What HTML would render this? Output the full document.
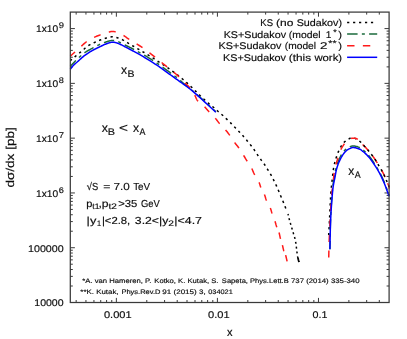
<!DOCTYPE html>
<html><head><meta charset="utf-8"><title>plot</title>
<style>html,body{margin:0;padding:0;background:#fff;}svg{display:block;will-change:transform;}text{font-family:"Liberation Sans", sans-serif;fill:#0d0d0d;stroke:#0d0d0d;stroke-width:0.16px;text-rendering:geometricPrecision;}</style></head><body>
<svg width="407" height="339" viewBox="0 0 407 339">
<rect x="0" y="0" width="407" height="339" fill="#ffffff"/>
<path d="M76.16 302.50v-2.50M76.16 12.10v2.50M85.95 302.50v-2.50M85.95 12.10v2.50M93.95 302.50v-2.50M93.95 12.10v2.50M100.72 302.50v-2.50M100.72 12.10v2.50M106.58 302.50v-2.50M106.58 12.10v2.50M111.75 302.50v-2.50M111.75 12.10v2.50M116.37 302.50v-4.60M116.37 12.10v4.60M146.79 302.50v-2.50M146.79 12.10v2.50M164.58 302.50v-2.50M164.58 12.10v2.50M177.21 302.50v-2.50M177.21 12.10v2.50M187.00 302.50v-2.50M187.00 12.10v2.50M195.00 302.50v-2.50M195.00 12.10v2.50M201.77 302.50v-2.50M201.77 12.10v2.50M207.63 302.50v-2.50M207.63 12.10v2.50M212.80 302.50v-2.50M212.80 12.10v2.50M217.42 302.50v-4.60M217.42 12.10v4.60M247.84 302.50v-2.50M247.84 12.10v2.50M265.63 302.50v-2.50M265.63 12.10v2.50M278.26 302.50v-2.50M278.26 12.10v2.50M288.05 302.50v-2.50M288.05 12.10v2.50M296.05 302.50v-2.50M296.05 12.10v2.50M302.82 302.50v-2.50M302.82 12.10v2.50M308.68 302.50v-2.50M308.68 12.10v2.50M313.85 302.50v-2.50M313.85 12.10v2.50M318.47 302.50v-4.60M318.47 12.10v4.60M348.89 302.50v-2.50M348.89 12.10v2.50M366.68 302.50v-2.50M366.68 12.10v2.50M379.31 302.50v-2.50M379.31 12.10v2.50M70.30 286.01h2.50M389.10 286.01h-2.50M70.30 276.36h2.50M389.10 276.36h-2.50M70.30 269.52h2.50M389.10 269.52h-2.50M70.30 264.21h2.50M389.10 264.21h-2.50M70.30 259.87h2.50M389.10 259.87h-2.50M70.30 256.20h2.50M389.10 256.20h-2.50M70.30 253.03h2.50M389.10 253.03h-2.50M70.30 250.22h2.50M389.10 250.22h-2.50M70.30 247.72h4.60M389.10 247.72h-4.60M70.30 231.23h2.50M389.10 231.23h-2.50M70.30 221.58h2.50M389.10 221.58h-2.50M70.30 214.74h2.50M389.10 214.74h-2.50M70.30 209.43h2.50M389.10 209.43h-2.50M70.30 205.09h2.50M389.10 205.09h-2.50M70.30 201.42h2.50M389.10 201.42h-2.50M70.30 198.25h2.50M389.10 198.25h-2.50M70.30 195.44h2.50M389.10 195.44h-2.50M70.30 192.94h4.60M389.10 192.94h-4.60M70.30 176.45h2.50M389.10 176.45h-2.50M70.30 166.80h2.50M389.10 166.80h-2.50M70.30 159.95h2.50M389.10 159.95h-2.50M70.30 154.65h2.50M389.10 154.65h-2.50M70.30 150.31h2.50M389.10 150.31h-2.50M70.30 146.64h2.50M389.10 146.64h-2.50M70.30 143.46h2.50M389.10 143.46h-2.50M70.30 140.66h2.50M389.10 140.66h-2.50M70.30 138.15h4.60M389.10 138.15h-4.60M70.30 121.66h2.50M389.10 121.66h-2.50M70.30 112.02h2.50M389.10 112.02h-2.50M70.30 105.17h2.50M389.10 105.17h-2.50M70.30 99.86h2.50M389.10 99.86h-2.50M70.30 95.53h2.50M389.10 95.53h-2.50M70.30 91.86h2.50M389.10 91.86h-2.50M70.30 88.68h2.50M389.10 88.68h-2.50M70.30 85.88h2.50M389.10 85.88h-2.50M70.30 83.37h4.60M389.10 83.37h-4.60M70.30 66.88h2.50M389.10 66.88h-2.50M70.30 57.24h2.50M389.10 57.24h-2.50M70.30 50.39h2.50M389.10 50.39h-2.50M70.30 45.08h2.50M389.10 45.08h-2.50M70.30 40.74h2.50M389.10 40.74h-2.50M70.30 37.08h2.50M389.10 37.08h-2.50M70.30 33.90h2.50M389.10 33.90h-2.50M70.30 31.10h2.50M389.10 31.10h-2.50M70.30 28.59h4.60M389.10 28.59h-4.60" stroke="#3a3a3a" stroke-width="1" fill="none"/>
<g fill="none" stroke-linejoin="round">
<path d="M264.40 194.50 L264.62 195.04 L264.82 195.56 L264.99 196.06 L265.15 196.56 L265.30 197.05 L265.44 197.53 L265.58 198.02 L265.73 198.51 L265.89 199.01 L266.07 199.52 L266.27 200.05 L266.50 200.60" stroke="#ff1a1a" stroke-width="1.5"/>
<path d="M270.30 208.00 L270.52 208.52 L270.70 209.01 L270.86 209.48 L271.01 209.92 L271.14 210.35 L271.26 210.78 L271.37 211.21 L271.49 211.64 L271.62 212.09 L271.76 212.57 L271.92 213.07 L272.10 213.60" stroke="#ff1a1a" stroke-width="1.5"/>
<path d="M275.00 221.30 L275.19 221.86 L275.36 222.41 L275.52 222.94 L275.67 223.46 L275.81 223.96 L275.94 224.46 L276.08 224.94 L276.21 225.42 L276.35 225.90 L276.49 226.37 L276.64 226.83 L276.80 227.30" stroke="#ff1a1a" stroke-width="1.5"/>
<path d="M279.00 232.50 L279.15 232.99 L279.29 233.50 L279.41 234.02 L279.54 234.55 L279.65 235.09 L279.77 235.64 L279.88 236.19 L280.00 236.74 L280.11 237.29 L280.23 237.83 L280.36 238.37 L280.50 238.90" stroke="#ff1a1a" stroke-width="1.5"/>
<path d="M282.40 245.10 L282.54 245.62 L282.67 246.16 L282.80 246.71 L282.92 247.26 L283.04 247.80 L283.16 248.35 L283.28 248.89 L283.40 249.41 L283.52 249.92 L283.64 250.41 L283.77 250.87 L283.90 251.30" stroke="#ff1a1a" stroke-width="1.5"/>
<path d="M285.60 255.10 L285.73 255.53 L285.86 255.99 L285.99 256.48 L286.11 256.99 L286.24 257.51 L286.36 258.05 L286.49 258.60 L286.61 259.14 L286.73 259.69 L286.85 260.24 L286.98 260.78 L287.10 261.30" stroke="#ff1a1a" stroke-width="1.5"/>
<path d="M362.65 144.40 L362.92 144.72 L363.21 145.08 L363.50 145.40 L363.76 145.68 L363.99 145.90 L364.19 146.09 L364.38 146.26 L364.57 146.42 L364.76 146.57 L364.96 146.75 L365.19 146.96 L365.44 147.22 L365.74 147.53 L366.09 147.92 L366.50 148.40 L366.98 148.97 L367.52 149.62 L368.12 150.34 L368.33 150.60" stroke="#ff1a1a" stroke-width="1.5"/>
<path d="M372.56 155.90 L372.88 156.33 L373.52 157.18 L374.10 158.00 L374.65 158.80 L375.19 159.62 L375.72 160.45 L376.24 161.28 L376.75 162.11 L377.24 162.93 L377.28 163.00" stroke="#ff1a1a" stroke-width="1.5"/>
<path d="M381.42 170.00 L381.54 170.20 L381.82 170.66 L382.10 171.14 L382.39 171.64 L382.68 172.18 L383.00 172.78 L383.33 173.45 L383.70 174.20 L384.09 175.04 L384.51 175.95 L384.94 176.92 L385.02 177.10" stroke="#ff1a1a" stroke-width="1.5"/>
<path d="M387.65 183.30 L387.71 183.44 L388.18 184.55 L388.64 185.64 L389.10 186.70 L389.10 188.60" stroke="#ff1a1a" stroke-width="1.5"/>
<path d="M297.92 258.00 L297.99 258.27 L298.10 258.69 L298.21 259.10 L298.32 259.52 L298.43 259.93 L298.55 260.34 L298.66 260.76 L298.78 261.17 L298.89 261.58 L299.00 262.00" stroke="#000000" stroke-width="1.8"/>
<path d="M70.30 60.60 L70.86 60.13 L71.42 59.65 L71.97 59.18 L72.53 58.71 L73.09 58.23 L73.65 57.76 L74.22 57.28 L74.80 56.80 L75.39 56.32 L75.99 55.83 L76.60 55.34 L77.21 54.84 L77.82 54.35 L78.43 53.86 L79.02 53.38 L79.60 52.90 L80.16 52.43 L80.71 51.96 L81.24 51.49 L81.77 51.03 L82.29 50.57 L82.82 50.11 L83.36 49.66 L83.90 49.20 L84.45 48.74 L84.99 48.28 L85.52 47.81 L86.07 47.35 L86.62 46.89 L87.19 46.45 L87.78 46.02 L88.40 45.60 L89.05 45.20 L89.72 44.81 L90.42 44.44 L91.13 44.08 L91.85 43.72 L92.57 43.37 L93.29 43.03 L94.00 42.70 L94.70 42.37 L95.41 42.05 L96.12 41.74 L96.83 41.43 L97.53 41.13 L98.23 40.85 L98.92 40.57 L99.60 40.30 L100.26 40.04 L100.91 39.80 L101.55 39.57 L102.18 39.34 L102.82 39.13 L103.46 38.91 L104.12 38.71 L104.80 38.50 L105.53 38.29 L106.31 38.07 L107.12 37.85 L107.93 37.64 L108.72 37.45 L109.46 37.27 L110.13 37.12 L110.70 37.00 L111.15 36.92 L111.50 36.86 L111.77 36.83 L111.99 36.82 L112.20 36.82 L112.42 36.84 L112.67 36.87 L113.00 36.90 L113.37 36.93 L113.75 36.96 L114.15 37.00 L114.57 37.05 L115.02 37.12 L115.51 37.21 L116.03 37.34 L116.60 37.50 L117.23 37.70 L117.94 37.94 L118.69 38.21 L119.47 38.51 L120.26 38.82 L121.04 39.14 L121.79 39.47 L122.50 39.80 L123.14 40.12 L123.74 40.45 L124.31 40.78 L124.86 41.12 L125.43 41.48 L126.03 41.86 L126.68 42.27 L127.40 42.70 L128.15 43.14 L128.88 43.57 L129.63 44.01 L130.43 44.48 L131.31 45.00 L132.29 45.58 L133.41 46.24 L134.70 47.00 L136.19 47.88 L137.88 48.86 L139.71 49.94 L141.64 51.07 L143.63 52.24 L145.63 53.44 L147.60 54.63 L149.50 55.80 L151.38 56.98 L153.32 58.22 L155.28 59.49 L157.22 60.76 L159.12 62.01 L160.94 63.22 L162.65 64.36 L164.20 65.40 L165.58 66.33 L166.80 67.16 L167.90 67.92 L168.92 68.64 L169.91 69.34 L170.89 70.05 L171.91 70.79 L173.00 71.60 L174.16 72.46 L175.34 73.35 L176.54 74.26 L177.74 75.19 L178.95 76.13 L180.15 77.08 L181.34 78.04 L182.50 79.00 L183.64 79.97 L184.77 80.94 L185.89 81.93 L186.99 82.92 L188.10 83.92 L189.20 84.94 L190.30 85.96 L191.40 87.00 L192.50 88.06 L193.61 89.14 L194.71 90.24 L195.81 91.35 L196.90 92.46 L198.00 93.56 L199.10 94.64 L200.20 95.70 L201.33 96.76 L202.50 97.85 L203.69 98.94 L204.87 100.02 L206.02 101.05 L207.11 102.03 L208.11 102.92 L209.00 103.70 L209.76 104.36 L210.41 104.90 L210.97 105.35 L211.47 105.75 L211.94 106.11 L212.40 106.48 L212.88 106.86 L213.40 107.30 L213.96 107.78 L214.52 108.28 L215.08 108.78 L215.65 109.29 L216.22 109.80 L216.78 110.31 L217.34 110.81 L217.90 111.30 L218.45 111.77 L219.01 112.24 L219.56 112.69 L220.11 113.14 L220.65 113.60 L221.20 114.05 L221.75 114.52 L222.30 115.00 L222.85 115.49 L223.41 116.00 L223.96 116.51 L224.52 117.03 L225.07 117.55 L225.62 118.07 L226.16 118.59 L226.70 119.10 L227.23 119.60 L227.75 120.10 L228.26 120.60 L228.77 121.09 L229.28 121.59 L229.79 122.09 L230.29 122.59 L230.80 123.10 L231.30 123.62 L231.80 124.14 L232.30 124.66 L232.80 125.19 L233.30 125.72 L233.80 126.25 L234.30 126.78 L234.80 127.30 L235.31 127.82 L235.82 128.33 L236.33 128.83 L236.85 129.34 L237.37 129.84 L237.88 130.36 L238.39 130.87 L238.90 131.40 L239.41 131.94 L239.91 132.48 L240.42 133.03 L240.93 133.59 L241.43 134.14 L241.92 134.70 L242.42 135.25 L242.90 135.80 L243.38 136.34 L243.85 136.88 L244.31 137.41 L244.77 137.94 L245.23 138.48 L245.68 139.01 L246.14 139.55 L246.60 140.10 L247.06 140.65 L247.53 141.20 L247.99 141.76 L248.45 142.31 L248.91 142.87 L249.37 143.44 L249.84 144.02 L250.30 144.60 L250.76 145.19 L251.23 145.79 L251.70 146.40 L252.17 147.01 L252.63 147.62 L253.10 148.24 L253.55 148.87 L254.00 149.50 L254.44 150.14 L254.87 150.79 L255.30 151.45 L255.72 152.11 L256.14 152.77 L256.56 153.42 L256.98 154.07 L257.40 154.70 L257.83 155.32 L258.25 155.94 L258.68 156.55 L259.11 157.15 L259.53 157.75 L259.96 158.34 L260.38 158.92 L260.80 159.50 L261.22 160.07 L261.64 160.62 L262.06 161.17 L262.48 161.71 L262.90 162.25 L263.31 162.80 L263.71 163.34 L264.10 163.90 L264.48 164.46 L264.85 165.03 L265.21 165.61 L265.57 166.18 L265.92 166.76 L266.28 167.34 L266.64 167.92 L267.00 168.50 L267.37 169.08 L267.75 169.67 L268.14 170.25 L268.52 170.84 L268.90 171.43 L269.28 172.02 L269.64 172.61 L270.00 173.20 L270.34 173.79 L270.68 174.39 L271.01 174.98 L271.33 175.58 L271.65 176.18 L271.97 176.78 L272.28 177.39 L272.60 178.00 L272.92 178.61 L273.23 179.22 L273.54 179.84 L273.86 180.46 L274.17 181.08 L274.48 181.71 L274.79 182.35 L275.10 183.00 L275.41 183.66 L275.72 184.32 L276.03 185.00 L276.34 185.67 L276.66 186.36 L276.97 187.06 L277.28 187.78 L277.60 188.50 L277.92 189.24 L278.25 190.01 L278.57 190.79 L278.90 191.58 L279.23 192.37 L279.55 193.15 L279.88 193.93 L280.20 194.70 L280.52 195.45 L280.84 196.20 L281.16 196.95 L281.47 197.69 L281.79 198.42 L282.10 199.15 L282.40 199.88 L282.70 200.60 L282.99 201.32 L283.27 202.02 L283.55 202.73 L283.82 203.43 L284.09 204.12 L284.36 204.81 L284.63 205.51 L284.90 206.20 L285.17 206.89 L285.45 207.58 L285.72 208.27 L286.00 208.96 L286.27 209.64 L286.55 210.33 L286.82 211.01 L287.10 211.70" stroke="#000000" stroke-width="1.5" stroke-dasharray="2.3 3.65" stroke-dashoffset="0.3"/>
<path d="M328.70 235.00 L328.79 233.43 L328.87 231.91 L328.96 230.42 L329.04 228.91 L329.13 227.36 L329.22 225.74 L329.31 224.03 L329.40 222.20 L329.50 220.19 L329.59 218.02 L329.69 215.73 L329.79 213.38 L329.90 211.03 L330.00 208.73 L330.10 206.54 L330.20 204.50 L330.30 202.62 L330.39 200.85 L330.48 199.16 L330.57 197.53 L330.66 195.94 L330.76 194.37 L330.88 192.80 L331.00 191.20 L331.14 189.56 L331.30 187.88 L331.47 186.19 L331.65 184.52 L331.83 182.91 L332.00 181.36 L332.16 179.92 L332.30 178.60 L332.42 177.43 L332.53 176.39 L332.62 175.45 L332.71 174.59 L332.79 173.77 L332.88 172.97 L332.98 172.15 L333.10 171.30 L333.23 170.42 L333.36 169.55 L333.50 168.69 L333.64 167.83 L333.80 166.98 L333.96 166.15 L334.12 165.32 L334.30 164.50 L334.48 163.70 L334.68 162.91 L334.87 162.14 L335.08 161.38 L335.30 160.61 L335.52 159.85 L335.76 159.08 L336.00 158.30 L336.25 157.50 L336.52 156.70 L336.79 155.88 L337.07 155.07 L337.37 154.26 L337.67 153.46 L337.98 152.67 L338.30 151.90 L338.63 151.15 L338.96 150.41 L339.30 149.68 L339.64 148.96 L340.01 148.25 L340.38 147.55 L340.78 146.87 L341.20 146.20 L341.64 145.54 L342.10 144.87 L342.58 144.22 L343.07 143.58 L343.59 142.96 L344.11 142.37 L344.65 141.82 L345.20 141.30 L345.78 140.82 L346.41 140.36 L347.06 139.92 L347.72 139.52 L348.37 139.15 L348.99 138.82 L349.58 138.54 L350.10 138.30 L350.56 138.12 L350.98 137.99 L351.35 137.91 L351.70 137.87 L352.03 137.86 L352.35 137.86 L352.67 137.88 L353.00 137.90 L353.32 137.92 L353.61 137.95 L353.89 137.99 L354.16 138.06 L354.45 138.14 L354.76 138.26 L355.10 138.41 L355.50 138.60 L355.96 138.83 L356.46 139.11 L357.01 139.41 L357.58 139.75 L358.15 140.11 L358.73 140.49 L359.28 140.89 L359.80 141.30 L360.30 141.73 L360.78 142.21 L361.26 142.71 L361.73 143.22 L362.19 143.74 L362.64 144.25 L363.08 144.74 L363.50 145.20 L363.88 145.59 L364.19 145.90 L364.47 146.17 L364.76 146.44 L365.07 146.76 L365.44 147.17 L365.91 147.70 L366.50 148.40 L367.24 149.29 L368.12 150.35 L369.09 151.54 L370.12 152.81 L371.18 154.13 L372.22 155.46 L373.20 156.76 L374.10 158.00 L374.92 159.21 L375.72 160.45 L376.49 161.69 L377.24 162.93 L377.95 164.15 L378.63 165.32 L379.28 166.45 L379.90 167.50 L380.46 168.43 L380.95 169.24 L381.40 169.96 L381.82 170.66 L382.25 171.39 L382.68 172.18 L383.16 173.10 L383.70 174.20 L384.30 175.48 L384.94 176.92 L385.61 178.46 L386.30 180.09 L387.00 181.76 L387.71 183.44 L388.41 185.10 L389.10 186.70" stroke="#000000" stroke-width="1.5" stroke-dasharray="2.3 3.65" stroke-dashoffset="0.3"/>
<path d="M288.00 214.00 L288.10 214.44 L288.19 214.87 L288.27 215.29 L288.36 215.72 L288.46 216.15 L288.56 216.61 L288.67 217.09 L288.80 217.60 L288.95 218.16 L289.11 218.75 L289.29 219.38 L289.48 220.02 L289.66 220.67 L289.85 221.31 L290.03 221.92 L290.20 222.50 L290.36 223.03 L290.50 223.53 L290.65 224.00 L290.79 224.46 L290.93 224.92 L291.08 225.41 L291.23 225.93 L291.40 226.50 L291.58 227.12 L291.76 227.77 L291.96 228.45 L292.16 229.16 L292.36 229.88 L292.57 230.61 L292.78 231.36 L293.00 232.10 L293.23 232.86 L293.47 233.64 L293.73 234.43 L293.98 235.23 L294.23 236.04 L294.47 236.84 L294.70 237.63 L294.90 238.40 L295.08 239.15 L295.24 239.87 L295.38 240.58 L295.51 241.28 L295.64 242.00 L295.76 242.73 L295.88 243.49 L296.00 244.30 L296.12 245.17 L296.24 246.09 L296.36 247.06 L296.47 248.04 L296.58 249.01 L296.69 249.96 L296.79 250.87 L296.90 251.70 L297.00 252.47 L297.10 253.18 L297.19 253.85 L297.27 254.50 L297.37 255.13 L297.47 255.75 L297.58 256.37 L297.70 257.00 L297.84 257.64 L297.99 258.27 L298.15 258.90 L298.32 259.52 L298.49 260.14 L298.66 260.76 L298.83 261.38 L299.00 262.00" stroke="#000000" stroke-width="1.5" stroke-dasharray="2.0 2.9" stroke-dashoffset="0.6"/>
<path d="M70.30 66.30 L71.02 65.55 L71.75 64.79 L72.48 64.02 L73.21 63.26 L73.94 62.50 L74.65 61.77 L75.34 61.07 L76.00 60.40 L76.63 59.77 L77.24 59.18 L77.83 58.62 L78.41 58.08 L78.97 57.55 L79.54 57.03 L80.11 56.52 L80.70 56.00 L81.27 55.50 L81.80 55.01 L82.32 54.54 L82.84 54.08 L83.40 53.61 L84.02 53.13 L84.71 52.63 L85.50 52.10 L86.43 51.52 L87.50 50.89 L88.66 50.24 L89.87 49.58 L91.08 48.92 L92.25 48.29 L93.34 47.71 L94.30 47.20 L95.12 46.76 L95.85 46.37 L96.50 46.02 L97.10 45.70 L97.69 45.40 L98.28 45.11 L98.91 44.81 L99.60 44.50 L100.37 44.17 L101.19 43.83 L102.05 43.49 L102.91 43.15 L103.76 42.83 L104.58 42.52 L105.33 42.24 L106.00 42.00 L106.58 41.79 L107.08 41.61 L107.53 41.46 L107.94 41.33 L108.33 41.21 L108.71 41.10 L109.09 41.00 L109.50 40.90 L109.92 40.80 L110.34 40.71 L110.76 40.63 L111.17 40.56 L111.58 40.50 L111.99 40.45 L112.39 40.42 L112.80 40.40 L113.20 40.40 L113.59 40.41 L113.97 40.43 L114.36 40.46 L114.75 40.52 L115.15 40.59 L115.56 40.68 L116.00 40.80 L116.43 40.93 L116.85 41.08 L117.27 41.24 L117.70 41.42 L118.17 41.64 L118.70 41.88 L119.30 42.17 L120.00 42.50 L120.82 42.89 L121.75 43.35 L122.76 43.86 L123.83 44.39 L124.92 44.94 L126.00 45.49 L127.03 46.01 L128.00 46.50 L128.84 46.92 L129.58 47.27 L130.25 47.60 L130.93 47.93 L131.65 48.29 L132.49 48.71 L133.48 49.24 L134.70 49.90 L136.16 50.70 L137.83 51.61 L139.66 52.61 L141.60 53.69 L143.60 54.81 L145.62 55.97 L147.60 57.14 L149.50 58.30 L151.35 59.47 L153.21 60.69 L155.08 61.94 L156.94 63.21 L158.79 64.49 L160.63 65.77 L162.43 67.04 L164.20 68.30 L165.97 69.57 L167.77 70.87 L169.56 72.18 L171.32 73.49 L173.02 74.76 L174.64 75.99 L176.14 77.14 L177.50 78.20 L178.64 79.11 L179.55 79.87 L180.31 80.53 L181.01 81.15 L181.71 81.79 L182.51 82.51 L183.48 83.36 L184.70 84.40 L186.18 85.63 L187.83 86.98 L189.63 88.45 L191.53 90.00 L193.51 91.62 L195.52 93.29 L197.53 94.99 L199.50 96.70 L201.47 98.45 L203.47 100.26 L205.50 102.13 L207.56 104.03 L209.62 105.96 L211.69 107.89 L213.75 109.81 L215.80 111.70" stroke="#1b6b3c" stroke-width="1.5" stroke-dasharray="10.5 4.25 3 4.25" stroke-dashoffset="2.4"/>
<path d="M329.90 249.20 L329.96 245.97 L330.02 242.67 L330.07 239.34 L330.12 236.02 L330.18 232.76 L330.25 229.60 L330.32 226.56 L330.40 223.70 L330.49 221.03 L330.59 218.51 L330.69 216.11 L330.80 213.82 L330.92 211.59 L331.04 209.40 L331.17 207.21 L331.30 205.00 L331.44 202.74 L331.59 200.45 L331.75 198.17 L331.91 195.92 L332.08 193.74 L332.25 191.68 L332.43 189.75 L332.60 188.00 L332.77 186.47 L332.94 185.16 L333.12 184.01 L333.29 182.95 L333.48 181.94 L333.67 180.91 L333.88 179.82 L334.10 178.60 L334.33 177.26 L334.56 175.86 L334.80 174.42 L335.05 172.95 L335.32 171.47 L335.61 170.01 L335.94 168.58 L336.30 167.20 L336.70 165.85 L337.13 164.49 L337.60 163.15 L338.09 161.82 L338.60 160.54 L339.12 159.30 L339.66 158.11 L340.20 157.00 L340.75 155.95 L341.32 154.94 L341.91 153.98 L342.51 153.07 L343.12 152.21 L343.74 151.41 L344.37 150.68 L345.00 150.00 L345.65 149.39 L346.33 148.85 L347.02 148.38 L347.72 147.96 L348.41 147.58 L349.08 147.26 L349.71 146.96 L350.30 146.70 L350.82 146.47 L351.28 146.28 L351.70 146.14 L352.11 146.03 L352.51 145.97 L352.95 145.94 L353.44 145.95 L354.00 146.00 L354.64 146.09 L355.35 146.22 L356.11 146.39 L356.90 146.59 L357.70 146.84 L358.50 147.12 L359.27 147.44 L360.00 147.80 L360.70 148.20 L361.37 148.64 L362.04 149.12 L362.69 149.64 L363.34 150.19 L363.99 150.77 L364.64 151.37 L365.30 152.00 L365.95 152.62 L366.57 153.24 L367.19 153.86 L367.81 154.53 L368.44 155.25 L369.11 156.05 L369.83 156.96 L370.60 158.00 L371.45 159.20 L372.38 160.55 L373.37 162.01 L374.38 163.56 L375.39 165.14 L376.38 166.74 L377.33 168.30 L378.20 169.80 L379.01 171.23 L379.77 172.64 L380.50 174.02 L381.20 175.41 L381.88 176.81 L382.55 178.25 L383.22 179.74 L383.90 181.30 L384.57 182.94 L385.24 184.64 L385.89 186.40 L386.53 188.19 L387.17 190.00 L387.81 191.81 L388.45 193.62 L389.10 195.40" stroke="#1b6b3c" stroke-width="1.5" stroke-dasharray="10.5 4.25 3 4.25" stroke-dashoffset="2.4"/>
<path d="M70.30 56.20 L70.85 55.70 L71.38 55.22 L71.90 54.74 L72.42 54.26 L72.97 53.77 L73.53 53.25 L74.14 52.70 L74.80 52.10 L75.53 51.44 L76.31 50.72 L77.14 49.96 L78.00 49.17 L78.86 48.39 L79.71 47.62 L80.53 46.88 L81.30 46.20 L82.00 45.57 L82.65 44.97 L83.27 44.41 L83.88 43.86 L84.49 43.32 L85.13 42.79 L85.83 42.25 L86.60 41.70 L87.46 41.13 L88.40 40.55 L89.39 39.95 L90.41 39.37 L91.44 38.80 L92.45 38.26 L93.41 37.75 L94.30 37.30 L95.11 36.91 L95.84 36.57 L96.53 36.27 L97.19 36.00 L97.87 35.74 L98.58 35.48 L99.35 35.21 L100.20 34.90 L101.18 34.55 L102.28 34.18 L103.46 33.78 L104.66 33.39 L105.84 33.01 L106.95 32.65 L107.96 32.35 L108.80 32.10 L109.47 31.91 L110.02 31.77 L110.46 31.67 L110.83 31.59 L111.15 31.55 L111.47 31.52 L111.81 31.51 L112.20 31.50 L112.59 31.49 L112.94 31.48 L113.28 31.48 L113.62 31.49 L114.00 31.54 L114.43 31.64 L114.96 31.79 L115.60 32.00 L116.39 32.29 L117.32 32.66 L118.34 33.08 L119.42 33.55 L120.52 34.04 L121.60 34.54 L122.60 35.03 L123.50 35.50 L124.26 35.94 L124.91 36.35 L125.49 36.76 L126.05 37.17 L126.63 37.61 L127.26 38.09 L128.01 38.61 L128.90 39.20 L129.94 39.85 L131.08 40.53 L132.32 41.26 L133.62 42.03 L134.98 42.84 L136.37 43.69 L137.78 44.58 L139.20 45.50 L140.64 46.47 L142.12 47.49 L143.65 48.55 L145.20 49.65 L146.77 50.78 L148.35 51.94 L149.93 53.11 L151.50 54.30 L153.10 55.54 L154.74 56.85 L156.40 58.20 L158.07 59.56 L159.71 60.91 L161.29 62.22 L162.80 63.46 L164.20 64.60 L165.51 65.65 L166.76 66.64 L167.95 67.58 L169.07 68.47 L170.14 69.31 L171.15 70.11 L172.10 70.87 L173.00 71.60 L173.80 72.25 L174.48 72.81 L175.08 73.31 L175.64 73.77 L176.18 74.24 L176.75 74.75 L177.38 75.32 L178.10 76.00 L178.94 76.81 L179.88 77.73 L180.87 78.72 L181.89 79.74 L182.89 80.76 L183.86 81.74 L184.74 82.63 L185.50 83.40 L186.15 84.04 L186.71 84.59 L187.20 85.07 L187.64 85.50 L188.04 85.90 L188.43 86.28 L188.81 86.68 L189.20 87.10 L189.59 87.53 L189.96 87.94 L190.32 88.34 L190.66 88.74 L190.99 89.14 L191.32 89.57 L191.66 90.01 L192.00 90.50 L192.35 91.02 L192.71 91.57 L193.06 92.15 L193.42 92.74 L193.77 93.34 L194.12 93.96 L194.46 94.58 L194.80 95.20 L195.13 95.84 L195.44 96.53 L195.75 97.23 L196.06 97.93 L196.36 98.62 L196.67 99.27 L196.98 99.87 L197.30 100.40 L197.61 100.84 L197.92 101.20 L198.21 101.51 L198.52 101.79 L198.84 102.05 L199.19 102.33 L199.57 102.64 L200.00 103.00 L200.49 103.41 L201.02 103.84 L201.59 104.28 L202.19 104.75 L202.81 105.23 L203.42 105.74 L204.02 106.26 L204.60 106.80 L205.15 107.36 L205.68 107.94 L206.20 108.55 L206.72 109.17 L207.25 109.81 L207.80 110.46 L208.38 111.12 L209.00 111.80 L209.68 112.50 L210.40 113.22 L211.17 113.96 L211.95 114.71 L212.73 115.47 L213.50 116.23 L214.22 116.97 L214.90 117.70 L215.51 118.41 L216.07 119.11 L216.59 119.80 L217.10 120.48 L217.61 121.17 L218.13 121.86 L218.69 122.57 L219.30 123.30 L219.98 124.05 L220.70 124.82 L221.47 125.61 L222.25 126.40 L223.03 127.19 L223.80 127.98 L224.52 128.75 L225.20 129.50 L225.82 130.22 L226.40 130.91 L226.95 131.58 L227.47 132.25 L227.99 132.92 L228.51 133.62 L229.05 134.34 L229.60 135.10 L230.18 135.92 L230.77 136.79 L231.36 137.69 L231.96 138.61 L232.56 139.53 L233.15 140.43 L233.73 141.29 L234.30 142.10 L234.85 142.84 L235.38 143.53 L235.90 144.18 L236.41 144.81 L236.93 145.44 L237.44 146.08 L237.96 146.76 L238.50 147.50 L239.05 148.30 L239.62 149.14 L240.20 150.01 L240.78 150.90 L241.35 151.80 L241.92 152.69 L242.47 153.56 L243.00 154.40 L243.50 155.21 L243.99 155.99 L244.45 156.75 L244.91 157.51 L245.36 158.27 L245.82 159.03 L246.30 159.81 L246.80 160.60 L247.33 161.41 L247.89 162.24 L248.47 163.08 L249.05 163.93 L249.63 164.77 L250.18 165.62 L250.71 166.46 L251.20 167.30 L251.63 168.12 L252.02 168.94 L252.37 169.74 L252.70 170.55 L253.03 171.36 L253.38 172.19 L253.77 173.03 L254.20 173.90 L254.70 174.80 L255.25 175.75 L255.84 176.71 L256.45 177.69 L257.05 178.66 L257.62 179.61 L258.15 180.53 L258.60 181.40 L258.98 182.22 L259.30 183.01 L259.59 183.76 L259.84 184.49 L260.07 185.22 L260.30 185.94 L260.54 186.66 L260.80 187.40" stroke="#ff1a1a" stroke-width="1.5" stroke-dasharray="7 8.6" stroke-dashoffset="0.7"/>
<path d="M328.70 258.50 L328.76 256.18 L328.82 253.86 L328.87 251.54 L328.93 249.22 L328.99 246.90 L329.05 244.59 L329.12 242.29 L329.20 240.00 L329.28 237.72 L329.37 235.45 L329.47 233.19 L329.57 230.94 L329.67 228.69 L329.78 226.45 L329.89 224.22 L330.00 222.00 L330.11 219.77 L330.23 217.52 L330.35 215.27 L330.47 213.03 L330.60 210.82 L330.73 208.65 L330.86 206.54 L331.00 204.50 L331.14 202.53 L331.28 200.61 L331.43 198.73 L331.57 196.91 L331.73 195.12 L331.88 193.38 L332.04 191.67 L332.20 190.00 L332.37 188.36 L332.54 186.76 L332.72 185.19 L332.91 183.66 L333.09 182.18 L333.27 180.74 L333.44 179.34 L333.60 178.00 L333.74 176.73 L333.85 175.54 L333.96 174.41 L334.06 173.31 L334.17 172.24 L334.31 171.16 L334.48 170.05 L334.70 168.90 L334.98 167.69 L335.33 166.42 L335.71 165.13 L336.11 163.83 L336.52 162.56 L336.92 161.33 L337.28 160.17 L337.60 159.10 L337.86 158.14 L338.07 157.26 L338.25 156.46 L338.41 155.69 L338.58 154.96 L338.78 154.23 L339.01 153.48 L339.30 152.70 L339.65 151.88 L340.06 151.03 L340.49 150.18 L340.96 149.32 L341.43 148.49 L341.90 147.68 L342.36 146.91 L342.80 146.20 L343.21 145.54 L343.62 144.91 L344.02 144.32 L344.41 143.76 L344.81 143.23 L345.20 142.73 L345.60 142.25 L346.00 141.80 L346.40 141.37 L346.81 140.96 L347.21 140.58 L347.62 140.23 L348.03 139.91 L348.44 139.61 L348.87 139.34 L349.30 139.10 L349.74 138.89 L350.20 138.72 L350.66 138.57 L351.13 138.45 L351.60 138.36 L352.07 138.28 L352.54 138.23 L353.00 138.20 L353.46 138.18 L353.92 138.18 L354.37 138.21 L354.83 138.25 L355.28 138.32 L355.73 138.42 L356.17 138.54 L356.60 138.70 L357.02 138.90 L357.43 139.15 L357.83 139.43 L358.23 139.74 L358.62 140.06 L359.01 140.38 L359.40 140.70 L359.80 141.00" stroke="#ff1a1a" stroke-width="1.5" stroke-dasharray="7 8.6" stroke-dashoffset="-0.9"/>
<path d="M70.30 69.20 L70.69 68.71 L71.07 68.22 L71.45 67.73 L71.83 67.24 L72.22 66.76 L72.62 66.27 L73.05 65.78 L73.50 65.30 L73.97 64.83 L74.46 64.38 L74.96 63.93 L75.48 63.49 L76.02 63.03 L76.59 62.55 L77.18 62.05 L77.80 61.50 L78.46 60.90 L79.16 60.25 L79.90 59.57 L80.65 58.87 L81.42 58.17 L82.19 57.48 L82.95 56.82 L83.70 56.20 L84.44 55.62 L85.17 55.07 L85.91 54.54 L86.65 54.02 L87.39 53.52 L88.13 53.03 L88.86 52.56 L89.60 52.10 L90.34 51.65 L91.07 51.23 L91.81 50.82 L92.55 50.42 L93.29 50.04 L94.02 49.66 L94.76 49.28 L95.50 48.90 L96.25 48.51 L97.03 48.12 L97.82 47.73 L98.61 47.35 L99.37 46.98 L100.10 46.63 L100.78 46.30 L101.40 46.00 L101.93 45.74 L102.39 45.51 L102.79 45.31 L103.16 45.12 L103.53 44.95 L103.90 44.78 L104.32 44.60 L104.80 44.40 L105.35 44.18 L105.95 43.95 L106.59 43.72 L107.24 43.48 L107.90 43.25 L108.54 43.04 L109.14 42.86 L109.70 42.70 L110.21 42.57 L110.68 42.46 L111.12 42.37 L111.54 42.30 L111.96 42.25 L112.36 42.21 L112.78 42.20 L113.20 42.20 L113.63 42.22 L114.04 42.27 L114.46 42.34 L114.87 42.42 L115.29 42.52 L115.71 42.63 L116.15 42.76 L116.60 42.90 L117.07 43.05 L117.56 43.23 L118.06 43.42 L118.57 43.62 L119.08 43.83 L119.59 44.05 L120.10 44.27 L120.60 44.50 L121.08 44.72 L121.54 44.95 L121.99 45.18 L122.44 45.41 L122.90 45.66 L123.39 45.92 L123.92 46.20 L124.50 46.50 L125.10 46.81 L125.71 47.12 L126.33 47.43 L126.99 47.77 L127.70 48.13 L128.48 48.54 L129.34 48.99 L130.30 49.50 L131.38 50.08 L132.58 50.72 L133.87 51.42 L135.22 52.15 L136.61 52.91 L138.00 53.68 L139.37 54.45 L140.70 55.20 L142.00 55.95 L143.31 56.72 L144.63 57.50 L145.94 58.29 L147.24 59.08 L148.52 59.86 L149.78 60.64 L151.00 61.40 L152.18 62.14 L153.30 62.85 L154.40 63.56 L155.47 64.26 L156.56 64.97 L157.66 65.71 L158.80 66.48 L160.00 67.30 L161.26 68.18 L162.56 69.11 L163.91 70.07 L165.27 71.06 L166.64 72.06 L168.01 73.05 L169.37 74.04 L170.70 75.00 L172.02 75.94 L173.33 76.89 L174.65 77.83 L175.96 78.77 L177.25 79.70 L178.53 80.61 L179.78 81.52 L181.00 82.40 L182.18 83.25 L183.33 84.07 L184.45 84.86 L185.55 85.65 L186.65 86.44 L187.75 87.26 L188.86 88.10 L190.00 89.00 L191.12 89.90 L192.18 90.78 L193.23 91.66 L194.29 92.58 L195.42 93.56 L196.64 94.63 L197.98 95.84 L199.50 97.20 L201.21 98.75 L203.10 100.47 L205.11 102.33 L207.22 104.28 L209.39 106.28 L211.57 108.29 L213.72 110.28 L215.80 112.20" stroke="#0000ff" stroke-width="1.5"/>
<path d="M329.90 249.20 L329.97 245.97 L330.04 242.67 L330.11 239.34 L330.17 236.02 L330.25 232.76 L330.32 229.60 L330.41 226.56 L330.50 223.70 L330.60 221.03 L330.71 218.51 L330.82 216.11 L330.94 213.82 L331.07 211.59 L331.21 209.40 L331.35 207.21 L331.50 205.00 L331.66 202.74 L331.84 200.45 L332.02 198.17 L332.21 195.92 L332.40 193.74 L332.60 191.68 L332.80 189.75 L333.00 188.00 L333.20 186.47 L333.39 185.16 L333.59 184.01 L333.79 182.95 L334.00 181.94 L334.22 180.91 L334.45 179.82 L334.70 178.60 L334.95 177.26 L335.21 175.85 L335.47 174.40 L335.75 172.92 L336.04 171.44 L336.36 169.98 L336.71 168.56 L337.10 167.20 L337.53 165.88 L337.99 164.58 L338.48 163.30 L339.00 162.04 L339.54 160.83 L340.09 159.66 L340.64 158.55 L341.20 157.50 L341.77 156.51 L342.35 155.57 L342.94 154.67 L343.55 153.82 L344.16 153.03 L344.78 152.30 L345.39 151.62 L346.00 151.00 L346.62 150.45 L347.26 149.97 L347.90 149.54 L348.55 149.18 L349.18 148.85 L349.79 148.57 L350.37 148.32 L350.90 148.10 L351.36 147.91 L351.76 147.76 L352.11 147.64 L352.45 147.57 L352.79 147.53 L353.16 147.52 L353.59 147.55 L354.10 147.60 L354.71 147.70 L355.41 147.84 L356.18 148.02 L356.97 148.24 L357.76 148.47 L358.51 148.72 L359.20 148.96 L359.80 149.20 L360.30 149.44 L360.74 149.70 L361.12 149.96 L361.46 150.24 L361.78 150.51 L362.08 150.78 L362.39 151.05 L362.70 151.30 L363.00 151.51 L363.25 151.68 L363.47 151.82 L363.70 151.97 L363.94 152.15 L364.23 152.38 L364.57 152.69 L365.00 153.10 L365.50 153.59 L366.06 154.14 L366.66 154.73 L367.31 155.39 L368.00 156.13 L368.74 156.96 L369.50 157.87 L370.30 158.90 L371.16 160.06 L372.10 161.37 L373.10 162.80 L374.13 164.29 L375.15 165.84 L376.16 167.39 L377.12 168.92 L378.00 170.40 L378.81 171.82 L379.57 173.21 L380.30 174.59 L380.99 175.98 L381.67 177.38 L382.34 178.83 L383.02 180.33 L383.70 181.90 L384.39 183.55 L385.07 185.28 L385.75 187.06 L386.42 188.88 L387.09 190.71 L387.76 192.56 L388.43 194.39 L389.10 196.20" stroke="#0000ff" stroke-width="1.5"/>
</g>
<rect x="70.30" y="12.10" width="318.80" height="290.40" fill="none" stroke="#3a3a3a" stroke-width="1.25"/>
<g fill="none">
<path d="M347.10 22.50H374.00" stroke="#000" stroke-width="1.5" stroke-dasharray="2.2 3.76"/>
<path d="M347.10 33.90H377.20" stroke="#1b6b3c" stroke-width="1.5" stroke-dasharray="10.5 4.25 3 4.25"/>
<path d="M347.10 45.70H377.20" stroke="#ff1a1a" stroke-width="1.5" stroke-dasharray="7.4 8.36"/>
<path d="M347.10 57.30H377.20" stroke="#0000ff" stroke-width="1.5"/>
</g>
<text x="260.37" y="26" font-size="9.75" textLength="12.74" lengthAdjust="spacingAndGlyphs">KS</text>
<text x="276.13" y="26" font-size="9.75" textLength="17.35" lengthAdjust="spacingAndGlyphs">(no</text>
<text x="296.65" y="26" font-size="9.75" textLength="45.39" lengthAdjust="spacingAndGlyphs">Sudakov)</text>
<text x="223.67" y="38" font-size="9.75" textLength="62.36" lengthAdjust="spacingAndGlyphs">KS+Sudakov</text>
<text x="288.83" y="38" font-size="9.75" textLength="31.80" lengthAdjust="spacingAndGlyphs">(model</text>
<text x="325.82" y="38" font-size="9.75" textLength="5.63" lengthAdjust="spacingAndGlyphs">1</text>
<text x="333.17" y="35" font-size="8.2" textLength="3.44" lengthAdjust="spacingAndGlyphs">*</text>
<text x="338.36" y="38" font-size="9.75" textLength="3.77" lengthAdjust="spacingAndGlyphs">)</text>
<text x="218.47" y="49" font-size="9.75" textLength="62.97" lengthAdjust="spacingAndGlyphs">KS+Sudakov</text>
<text x="284.85" y="49" font-size="9.75" textLength="31.17" lengthAdjust="spacingAndGlyphs">(model</text>
<text x="319.91" y="49" font-size="9.75" textLength="7.46" lengthAdjust="spacingAndGlyphs">2</text>
<text x="328.34" y="46" font-size="8.2" textLength="8.22" lengthAdjust="spacingAndGlyphs">**</text>
<text x="338.36" y="49" font-size="9.75" textLength="3.77" lengthAdjust="spacingAndGlyphs">)</text>
<text x="223.07" y="61" font-size="9.75" textLength="62.97" lengthAdjust="spacingAndGlyphs">KS+Sudakov</text>
<text x="288.74" y="61" font-size="9.75" textLength="22.37" lengthAdjust="spacingAndGlyphs">(this</text>
<text x="314.40" y="61" font-size="9.75" textLength="27.69" lengthAdjust="spacingAndGlyphs">work)</text>
<text x="36.02" y="32" font-size="9.75" textLength="22.11" lengthAdjust="spacingAndGlyphs">1x10</text>
<text x="58.87" y="28" font-size="8.2" textLength="5.23" lengthAdjust="spacingAndGlyphs">9</text>
<text x="36.02" y="87" font-size="9.75" textLength="22.11" lengthAdjust="spacingAndGlyphs">1x10</text>
<text x="58.88" y="83" font-size="8.2" textLength="5.06" lengthAdjust="spacingAndGlyphs">8</text>
<text x="36.02" y="142" font-size="9.75" textLength="22.11" lengthAdjust="spacingAndGlyphs">1x10</text>
<text x="58.87" y="138" font-size="8.2" textLength="5.23" lengthAdjust="spacingAndGlyphs">7</text>
<text x="36.02" y="197" font-size="9.75" textLength="22.11" lengthAdjust="spacingAndGlyphs">1x10</text>
<text x="58.88" y="193" font-size="8.2" textLength="5.06" lengthAdjust="spacingAndGlyphs">6</text>
<text x="28.08" y="252" font-size="9.75" textLength="35.58" lengthAdjust="spacingAndGlyphs">100000</text>
<text x="34.29" y="306" font-size="9.75" textLength="29.32" lengthAdjust="spacingAndGlyphs">10000</text>
<text x="103.98" y="318" font-size="9.75" textLength="27.63" lengthAdjust="spacingAndGlyphs">0.001</text>
<text x="207.97" y="318" font-size="9.75" textLength="21.58" lengthAdjust="spacingAndGlyphs">0.01</text>
<text x="312.59" y="318" font-size="9.75" textLength="14.89" lengthAdjust="spacingAndGlyphs">0.1</text>
<text x="226.88" y="336" font-size="11.5" textLength="5.54" lengthAdjust="spacingAndGlyphs">x</text>
<text x="121.08" y="74" font-size="12.4" textLength="6.12" lengthAdjust="spacingAndGlyphs">x</text>
<text x="127.58" y="77" font-size="9.6" textLength="7.00" lengthAdjust="spacingAndGlyphs">B</text>
<text x="348.18" y="175" font-size="12.4" textLength="6.02" lengthAdjust="spacingAndGlyphs">x</text>
<text x="354.80" y="178" font-size="9.6" textLength="5.93" lengthAdjust="spacingAndGlyphs">A</text>
<text x="101.87" y="132" font-size="12.4" textLength="6.23" lengthAdjust="spacingAndGlyphs">x</text>
<text x="107.85" y="135" font-size="9.6" textLength="7.25" lengthAdjust="spacingAndGlyphs">B</text>
<text x="119.13" y="132" font-size="12.4" textLength="8.94" lengthAdjust="spacingAndGlyphs">&lt;</text>
<text x="133.08" y="132" font-size="12.4" textLength="6.12" lengthAdjust="spacingAndGlyphs">x</text>
<text x="139.50" y="135" font-size="9.6" textLength="5.93" lengthAdjust="spacingAndGlyphs">A</text>
<text x="86.77" y="190" font-size="10.2" textLength="11.40" lengthAdjust="spacingAndGlyphs">&#8730;S</text>
<text x="103.20" y="190" font-size="10.2" textLength="7.14" lengthAdjust="spacingAndGlyphs">=</text>
<text x="113.63" y="190" font-size="10.2" textLength="16.26" lengthAdjust="spacingAndGlyphs">7.0</text>
<text x="133.16" y="190" font-size="10.2" textLength="17.00" lengthAdjust="spacingAndGlyphs">TeV</text>
<text x="86.32" y="207" font-size="10.2" textLength="6.13" lengthAdjust="spacingAndGlyphs">p</text>
<text x="92.37" y="209" font-size="8.0" textLength="7.19" lengthAdjust="spacingAndGlyphs">t1</text>
<text x="98.51" y="207" font-size="10.2" textLength="10.14" lengthAdjust="spacingAndGlyphs">,p</text>
<text x="108.44" y="209" font-size="8.0" textLength="8.39" lengthAdjust="spacingAndGlyphs">t2</text>
<text x="118.15" y="207" font-size="10.2" textLength="19.10" lengthAdjust="spacingAndGlyphs">&gt;35</text>
<text x="140.94" y="207" font-size="10.2" textLength="18.79" lengthAdjust="spacingAndGlyphs">GeV</text>
<text x="86.61" y="224" font-size="10.2" textLength="9.69" lengthAdjust="spacingAndGlyphs">|y</text>
<text x="96.93" y="226" font-size="8.0" textLength="4.09" lengthAdjust="spacingAndGlyphs">1</text>
<text x="101.93" y="224" font-size="10.2" textLength="28.34" lengthAdjust="spacingAndGlyphs">|&lt;2.8,</text>
<text x="134.85" y="224" font-size="10.2" textLength="33.48" lengthAdjust="spacingAndGlyphs">3.2&lt;|y</text>
<text x="168.32" y="226" font-size="8.0" textLength="5.65" lengthAdjust="spacingAndGlyphs">2</text>
<text x="174.34" y="224" font-size="10.2" textLength="27.69" lengthAdjust="spacingAndGlyphs">|&lt;4.7</text>
<text x="82.35" y="283" font-size="6.6" textLength="68.99" lengthAdjust="spacingAndGlyphs">*A. van Hameren, P.</text>
<text x="154.32" y="283" font-size="6.6" textLength="64.17" lengthAdjust="spacingAndGlyphs">Kotko, K. Kutak, S.</text>
<text x="221.87" y="283" font-size="6.6" textLength="66.91" lengthAdjust="spacingAndGlyphs">Sapeta, Phys.Lett.B</text>
<text x="290.96" y="283" font-size="6.6" textLength="68.61" lengthAdjust="spacingAndGlyphs">737 (2014) 335-340</text>
<text x="80.35" y="294" font-size="6.6" textLength="38.22" lengthAdjust="spacingAndGlyphs">**K. Kutak,</text>
<text x="121.43" y="294" font-size="6.6" textLength="39.04" lengthAdjust="spacingAndGlyphs">Phys.Rev.D</text>
<text x="162.34" y="294" font-size="6.6" textLength="43.34" lengthAdjust="spacingAndGlyphs">91 (2015) 3,</text>
<text x="208.22" y="294" font-size="6.6" textLength="24.58" lengthAdjust="spacingAndGlyphs">034021</text>
<text transform="translate(13.7 187.6) rotate(-90)" font-size="11.4" textLength="60.4" lengthAdjust="spacingAndGlyphs">d&#963;/dx [pb]</text>
</svg></body></html>
